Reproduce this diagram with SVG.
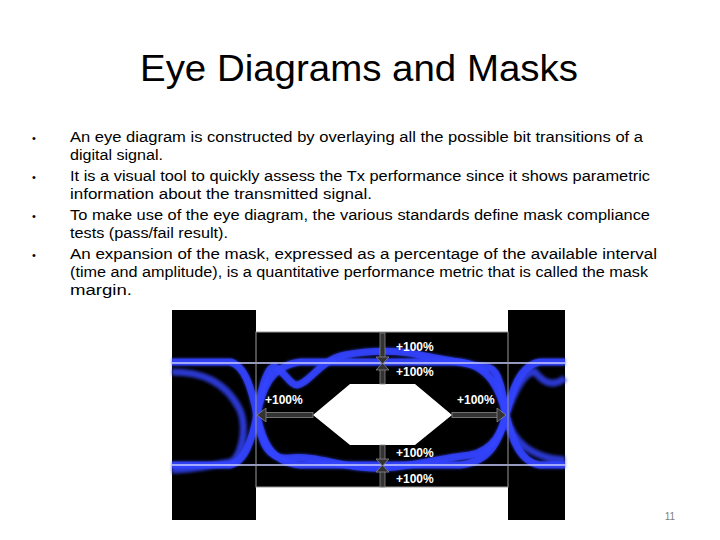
<svg xmlns="http://www.w3.org/2000/svg" width="720" height="540" viewBox="0 0 720 540">
<style>
.t{font-family:"Liberation Sans",Arial,sans-serif;font-size:15.5px;fill:#000}
.b{font-family:"Liberation Sans",Arial,sans-serif;font-size:11px;fill:#000}
.p{font-family:"Liberation Sans",Arial,sans-serif;font-size:12px;font-weight:bold;fill:#fff}
.tr{fill:none;stroke:#3344ff;stroke-width:7;opacity:.8}
.tw{fill:none;stroke:#aab0ff;stroke-width:1.5;opacity:.8}
.tc{fill:none;stroke:#c8ccff;stroke-width:1.5}
</style>
<defs><filter id="g"><feGaussianBlur stdDeviation="1.6"/></filter></defs>
<rect width="720" height="540" fill="#fff"/>
<text x="359" y="81" text-anchor="middle" font-family="Liberation Sans,Arial,sans-serif" font-size="37" textLength="438" lengthAdjust="spacingAndGlyphs">Eye Diagrams and Masks</text>
<g id="bullets">
<text class="b" x="32" y="142">•</text><text class="b" x="32" y="181">•</text><text class="b" x="32" y="220">•</text><text class="b" x="32" y="259">•</text>
<text class="t" x="70" y="142" textLength="573" lengthAdjust="spacingAndGlyphs">An eye diagram is constructed by overlaying all the possible bit transitions of a</text>
<text class="t" x="70" y="160" textLength="93" lengthAdjust="spacingAndGlyphs">digital signal.</text>
<text class="t" x="70" y="181" textLength="580" lengthAdjust="spacingAndGlyphs">It is a visual tool to quickly assess the Tx performance since it shows parametric</text>
<text class="t" x="70" y="199" textLength="302" lengthAdjust="spacingAndGlyphs">information about the transmitted signal.</text>
<text class="t" x="70" y="220" textLength="580" lengthAdjust="spacingAndGlyphs">To make use of the eye diagram, the various standards define mask compliance</text>
<text class="t" x="70" y="238" textLength="158" lengthAdjust="spacingAndGlyphs">tests (pass/fail result).</text>
<text class="t" x="70" y="259" textLength="587" lengthAdjust="spacingAndGlyphs">An expansion of the mask, expressed as a percentage of the available interval</text>
<text class="t" x="70" y="277" textLength="578" lengthAdjust="spacingAndGlyphs">(time and amplitude), is a quantitative performance metric that is called the mask</text>
<text class="t" x="70" y="295" textLength="62" lengthAdjust="spacingAndGlyphs">margin.</text>
</g>
<g id="eye">
<rect x="172" y="310" width="393" height="210" fill="#000"/>
<rect x="256" y="310" width="252" height="22" fill="#fff"/>
<rect x="256" y="487" width="252" height="33" fill="#fff"/>
<g id="traces">
<g filter="url(#g)">
<path id="a" class="tr" d="M172 362 L230 362 C245 365 252 390 257 415 C262 440 270 462 300 465 L460 465 C490 462 500 440 506 415 C512 390 520 365 540 362 L565 362"/>
<path id="b2" class="tr" d="M172 465 L230 465 C245 462 252 440 257 415 C262 390 270 366 300 362 L460 362 C490 366 500 390 506 415 C512 440 520 462 540 465 L565 465"/>
<path id="c" class="tr" d="M256 415 C262 385 268 365 275 367 C285 372 290 385 297 385 C310 383 320 360 345 355 C370 350 400 350 420 355 C445 360 475 365 490 368 C500 372 503 395 506 415"/>
<path id="d" class="tr" d="M256 415 C262 445 268 460 290 458 C320 455 345 470 385 468 C420 465 440 458 470 455 C495 450 502 430 506 415"/>
<path id="e" class="tr" d="M172 372 C200 372 225 380 240 410 C248 430 240 460 230 462 C210 466 190 470 172 470"/>
<path id="f" class="tr" d="M565 378 C550 390 540 378 535 372 C525 372 515 390 506 415 C512 440 530 458 565 460"/>
</g>
<use href="#a" style="stroke:#aab0ff;stroke-width:1.5"/>
<use href="#b2" style="stroke:#aab0ff;stroke-width:1.5"/>
<use href="#c" style="stroke:#aab0ff;stroke-width:1.5"/>
<use href="#d" style="stroke:#aab0ff;stroke-width:1.5"/>
</g>
<path class="tc" d="M172 363 L565 363 M172 465 L565 465"/>
<rect x="256" y="332" width="252" height="155" fill="none" stroke="#999" stroke-width="1"/>
<path d="M313 415 L350 384 L415 384 L452 415 L415 445 L350 445 Z" fill="#fff"/>
<g fill="#333" stroke="#888" stroke-width="0.8">
<rect x="380" y="333" width="5" height="26"/><path d="M376 357 L389 357 L382.5 364 Z"/>
<rect x="380" y="368" width="5" height="16"/><path d="M376 370 L389 370 L382.5 363 Z"/>
<rect x="380" y="445" width="5" height="16"/><path d="M376 459 L389 459 L382.5 466 Z"/>
<rect x="380" y="470" width="5" height="17"/><path d="M376 472 L389 472 L382.5 465 Z"/>
<rect x="264" y="412.5" width="49" height="5"/><path d="M266 408 L266 422 L257 415 Z"/>
<rect x="452" y="412.5" width="46" height="5"/><path d="M497 408 L497 422 L506 415 Z"/>
</g>
<text class="p" x="396" y="351">+100%</text>
<text class="p" x="396" y="376">+100%</text>
<text class="p" x="396" y="457">+100%</text>
<text class="p" x="396" y="483">+100%</text>
<text class="p" x="265" y="404">+100%</text>
<text class="p" x="457" y="404">+100%</text>
</g>
<text x="670" y="520" text-anchor="middle" font-family="Liberation Sans,Arial,sans-serif" font-size="10" fill="#7f7f7f">11</text>
</svg>
